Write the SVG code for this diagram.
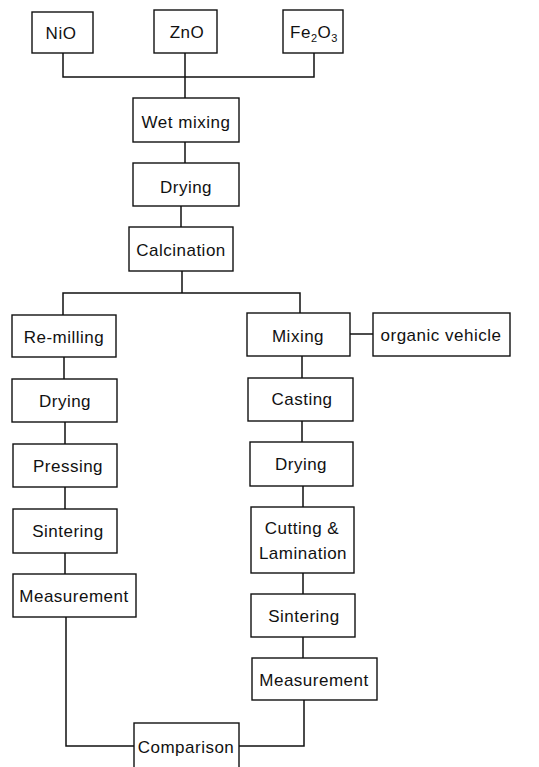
<svg xmlns="http://www.w3.org/2000/svg" width="539" height="767" viewBox="0 0 539 767">
<style>
rect{fill:#fff;stroke:#111;stroke-width:1.4}
text{font-family:"Liberation Sans",Arial,sans-serif;font-size:17px;letter-spacing:0.5px;fill:#111;text-anchor:middle}
.c path{fill:none;stroke:#111;stroke-width:1.5}
</style>
<rect x="0" y="0" width="539" height="767" style="fill:#fff;stroke:none"/>
<g class="c" id="connectors">
<path d="M63 53V77H314V53M185 53V98"/>
<path d="M185 142V163"/>
<path d="M181 206V227"/>
<path d="M182 271V293M63 315V293H300V313"/>
<path d="M350 334H373"/>
<path d="M64 357V379M65 422V444M65 487V509M65 553V574"/>
<path d="M66 617V746H134"/>
<path d="M302 356V378M302 421V442M303 486V507M303 573V594M303 637V658"/>
<path d="M304 700V746H239"/>
</g>
<g id="nio"><rect x="32" y="12" width="61" height="41"/><text x="61" y="39">NiO</text></g>
<g id="zno"><rect x="154" y="10" width="63" height="43"/><text x="187" y="38">ZnO</text></g>
<g id="fe2o3"><rect x="283" y="10" width="60" height="43"/><text x="314" y="38">Fe<tspan font-size="11" dy="4">2</tspan><tspan dy="-4">O</tspan><tspan font-size="11" dy="4">3</tspan></text></g>
<g id="wet-mixing"><rect x="133" y="98" width="106" height="44"/><text x="186" y="128">Wet mixing</text></g>
<g id="drying1"><rect x="133" y="163" width="106" height="43"/><text x="186" y="193">Drying</text></g>
<g id="calcination"><rect x="129" y="227" width="104" height="44"/><text x="181" y="256">Calcination</text></g>
<g id="re-milling"><rect x="12" y="315" width="104" height="42"/><text x="64" y="343">Re-milling</text></g>
<g id="mixing"><rect x="247" y="313" width="103" height="43"/><text x="298" y="342">Mixing</text></g>
<g id="organic-vehicle"><rect x="373" y="313" width="137" height="43"/><text x="441" y="341">organic vehicle</text></g>
<g id="drying-left"><rect x="12" y="379" width="105" height="43"/><text x="65" y="407">Drying</text></g>
<g id="casting"><rect x="248" y="378" width="105" height="43"/><text x="302" y="405">Casting</text></g>
<g id="pressing"><rect x="13" y="444" width="104" height="43"/><text x="68" y="472">Pressing</text></g>
<g id="drying-right"><rect x="250" y="442" width="103" height="44"/><text x="301" y="470">Drying</text></g>
<g id="sintering-left"><rect x="13" y="509" width="104" height="44"/><text x="68" y="537">Sintering</text></g>
<g id="cutting-lamination"><rect x="251" y="507" width="103" height="66"/><text x="302" y="534">Cutting &amp;</text><text x="303" y="559">Lamination</text></g>
<g id="measurement-left"><rect x="13" y="574" width="123" height="43"/><text x="74" y="602">Measurement</text></g>
<g id="sintering-right"><rect x="251" y="594" width="104" height="43"/><text x="304" y="622">Sintering</text></g>
<g id="measurement-right"><rect x="252" y="658" width="125" height="42"/><text x="314" y="686">Measurement</text></g>
<g id="comparison"><rect x="134" y="723" width="105" height="50"/><text x="186" y="753">Comparison</text></g>
</svg>
